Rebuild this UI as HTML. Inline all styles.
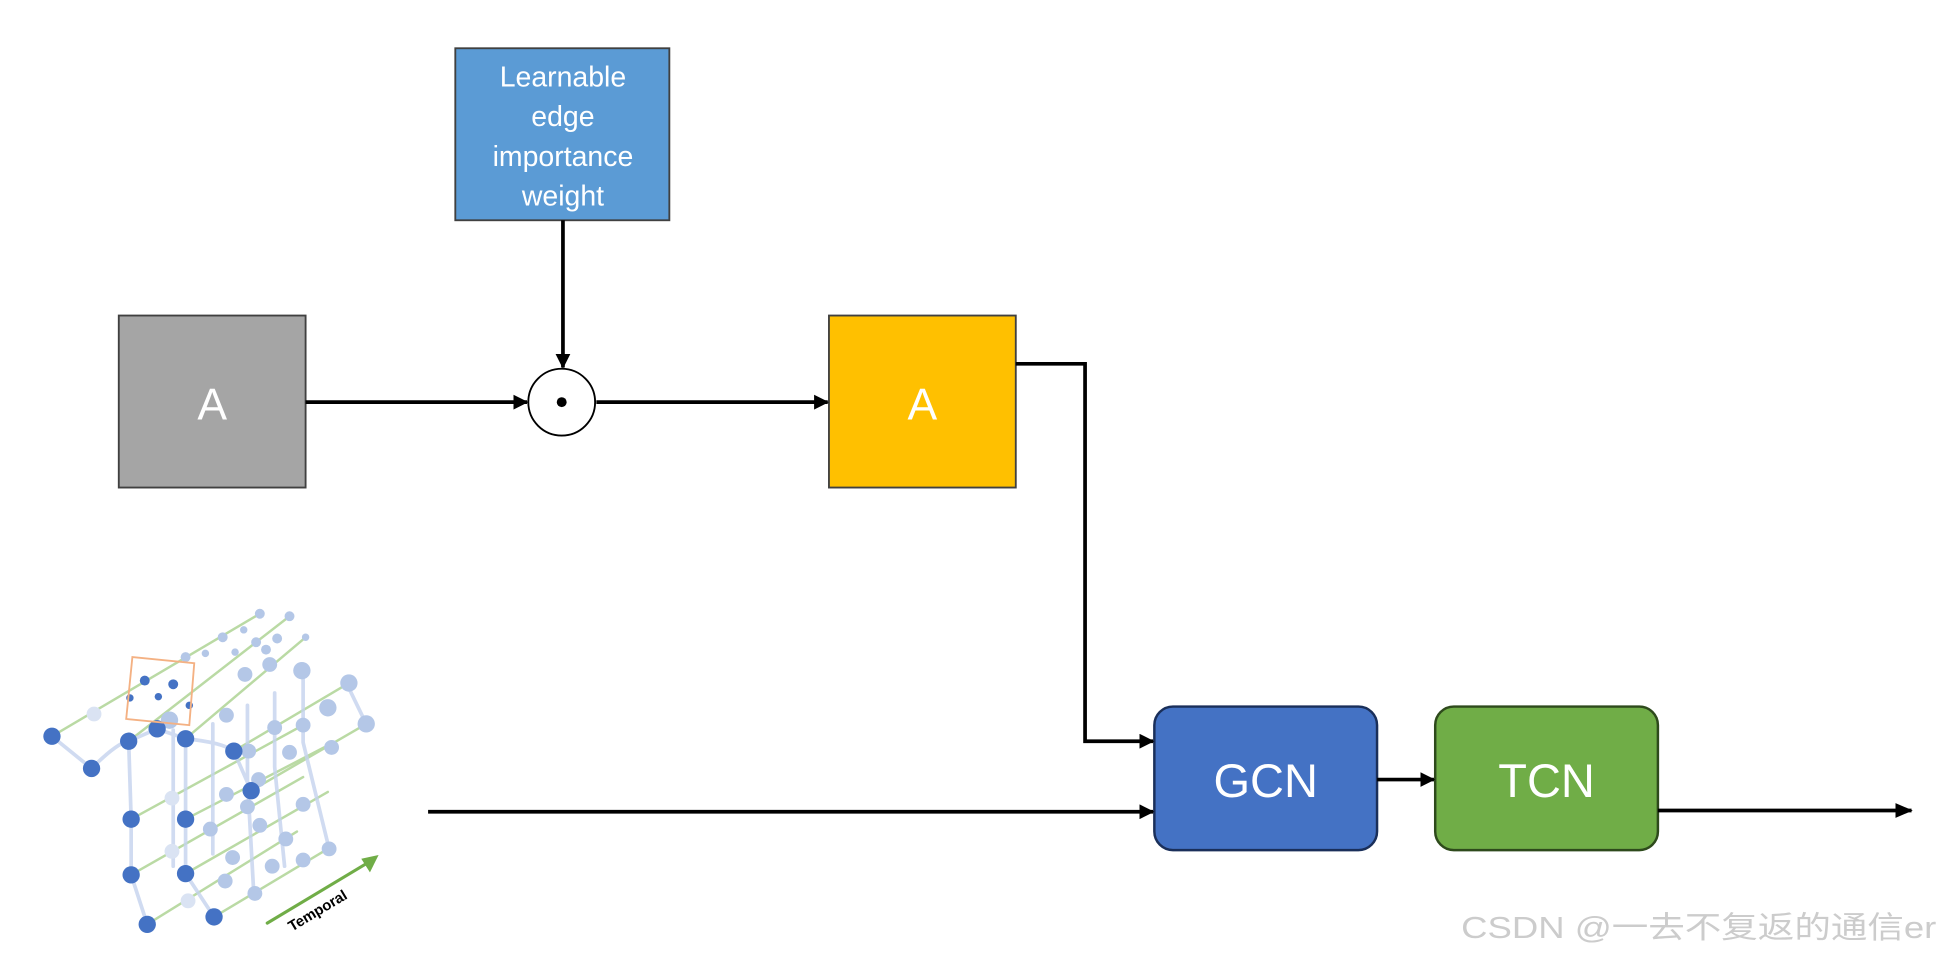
<!DOCTYPE html>
<html><head><meta charset="utf-8"><style>
html,body{margin:0;padding:0;background:#fff;}
body{width:1940px;height:959px;overflow:hidden;}
svg text{font-family:"Liberation Sans","Noto Sans CJK SC",sans-serif;}
</style></head><body>
<svg width="1940" height="959" viewBox="0 0 1568 775" xmlns="http://www.w3.org/2000/svg" preserveAspectRatio="none">
<defs>
<marker id="ar" markerWidth="12" markerHeight="12" refX="11" refY="6" orient="auto" markerUnits="userSpaceOnUse">
<path d="M0,0 L12,6 L0,12 z" fill="#000"/></marker>
<marker id="ar2" markerWidth="14" markerHeight="12" refX="13" refY="6" orient="auto" markerUnits="userSpaceOnUse">
<path d="M0,0 L14,6 L0,12 z" fill="#000"/></marker>
</defs>
<g stroke-linecap="round">
<g stroke="#a9d18e" stroke-width="2" opacity="0.8">
<line x1="42" y1="595" x2="210" y2="496"/><line x1="104" y1="599" x2="234" y2="498"/>
<line x1="150" y1="597" x2="247" y2="515"/><line x1="189" y1="607" x2="282" y2="552"/>
<line x1="203" y1="639" x2="296" y2="585"/><line x1="106" y1="662" x2="245" y2="586"/>
<line x1="150" y1="662" x2="262" y2="604"/><line x1="106" y1="707" x2="245" y2="628"/>
<line x1="150" y1="706" x2="265" y2="640"/><line x1="119" y1="747" x2="240" y2="672"/>
<line x1="173" y1="741" x2="265" y2="686"/>
</g>
<g stroke="#c5d3ee" stroke-width="3" fill="none" opacity="0.8">
<path d="M42,595 L74,621 Q95,600 104,599 L127,589 L150,597"/>
<path d="M104,599 L106,662 L106,707 L119,747"/>
<path d="M150,597 L150,662 L150,706 L173,741"/>
<path d="M150,597 Q180,600 189,607 L203,639"/>
<path d="M140,590 L140,644 L140,700"/><path d="M172,585 L172,640 L172,690"/>
<path d="M200,570 L200,630 L205,720"/><path d="M222,560 L222,620 L230,700"/>
<path d="M245,540 L245,600 L266,686"/><path d="M280,552 L296,585"/>
</g>
<g fill="#b4c7e7">
<circle cx="76" cy="577" r="6" fill="#dae3f3"/><circle cx="137" cy="582" r="7"/><circle cx="183" cy="578" r="6"/>
<circle cx="198" cy="545" r="6"/><circle cx="218" cy="537" r="6"/><circle cx="244" cy="542" r="7"/>
<circle cx="282" cy="552" r="7"/><circle cx="296" cy="585" r="7"/><circle cx="265" cy="572" r="7"/>
<circle cx="245" cy="586" r="6"/><circle cx="222" cy="588" r="6"/><circle cx="201" cy="607" r="6"/>
<circle cx="234" cy="608" r="6"/><circle cx="268" cy="604" r="6"/><circle cx="183" cy="642" r="6"/>
<circle cx="209" cy="630" r="6"/><circle cx="245" cy="650" r="6"/><circle cx="200" cy="652" r="6"/>
<circle cx="139" cy="645" r="6" fill="#dae3f3"/><circle cx="170" cy="670" r="6"/><circle cx="210" cy="667" r="6"/>
<circle cx="231" cy="678" r="6"/><circle cx="266" cy="686" r="6"/><circle cx="139" cy="688" r="6" fill="#dae3f3"/>
<circle cx="182" cy="712" r="6"/><circle cx="206" cy="722" r="6"/><circle cx="245" cy="695" r="6"/>
<circle cx="152" cy="728" r="6" fill="#dae3f3"/><circle cx="188" cy="693" r="6"/><circle cx="220" cy="700" r="6"/>
<circle cx="210" cy="496" r="4"/><circle cx="234" cy="498" r="4"/><circle cx="224" cy="516" r="4"/>
<circle cx="180" cy="515" r="4"/><circle cx="197" cy="509" r="3"/><circle cx="247" cy="515" r="3"/>
<circle cx="207" cy="519" r="4"/><circle cx="150" cy="531" r="4"/><circle cx="166" cy="528" r="3"/>
<circle cx="190" cy="527" r="3"/><circle cx="215" cy="525" r="4"/>
</g>
<g fill="#4472c4">
<circle cx="42" cy="595" r="7"/><circle cx="74" cy="621" r="7"/><circle cx="104" cy="599" r="7"/>
<circle cx="127" cy="589" r="7"/><circle cx="150" cy="597" r="7"/><circle cx="189" cy="607" r="7"/>
<circle cx="203" cy="639" r="7"/><circle cx="106" cy="662" r="7"/><circle cx="150" cy="662" r="7"/>
<circle cx="106" cy="707" r="7"/><circle cx="150" cy="706" r="7"/><circle cx="119" cy="747" r="7"/>
<circle cx="173" cy="741" r="7"/>
<circle cx="117" cy="550" r="4"/><circle cx="140" cy="553" r="4"/><circle cx="105" cy="564" r="3"/>
<circle cx="128" cy="563" r="3"/><circle cx="153" cy="570" r="3"/>
</g>
<polygon points="107,531 157,536 153,586 102,581" fill="none" stroke="#f4b183" stroke-width="1.5"/>
<line x1="216" y1="746" x2="296" y2="698" stroke="#70ad47" stroke-width="2.5"/>
<path d="M306,691 L292,694 L299,705 z" fill="#70ad47"/>
<text x="0" y="0" font-size="12" font-weight="bold" fill="#000" transform="translate(236,753) rotate(-31)">Temporal</text>
</g>

<rect x="368" y="39" width="173" height="139" fill="#5b9bd5" stroke="#404040" stroke-width="1.5"/>
<g fill="#fff" font-size="23" text-anchor="middle">
<text x="455" y="70">Learnable</text><text x="455" y="102">edge</text>
<text x="455" y="134">importance</text><text x="455" y="166">weight</text></g>
<rect x="96" y="255" width="151" height="139" fill="#a5a5a5" stroke="#404040" stroke-width="1.5"/>
<text x="171.5" y="339" fill="#fff" font-size="36" text-anchor="middle">A</text>
<rect x="670" y="255" width="151" height="139" fill="#ffc000" stroke="#404040" stroke-width="1.5"/>
<text x="745.5" y="339" fill="#fff" font-size="36" text-anchor="middle">A</text>
<circle cx="454" cy="325" r="27" fill="#fff" stroke="#000" stroke-width="1.5"/>
<circle cx="454" cy="325" r="4" fill="#000"/>
<rect x="933" y="571" width="180" height="116" rx="15" fill="#4472c4" stroke="#1a2f5a" stroke-width="2"/>
<text x="1023" y="644" fill="#fff" font-size="38" text-anchor="middle">GCN</text>
<rect x="1160" y="571" width="180" height="116" rx="15" fill="#70ad47" stroke="#2e4a1c" stroke-width="2"/>
<text x="1250" y="644" fill="#fff" font-size="38" text-anchor="middle">TCN</text>

<g stroke="#000" stroke-width="3" fill="none">
<line x1="455" y1="178" x2="455" y2="297" marker-end="url(#ar)"/>
<line x1="247" y1="325" x2="426" y2="325" marker-end="url(#ar)"/>
<line x1="482" y1="325" x2="669" y2="325" marker-end="url(#ar)"/>
<polyline points="821,294 877,294 877,599 932,599" marker-end="url(#ar)"/>
<line x1="346" y1="656" x2="932" y2="656" marker-end="url(#ar)"/>
<line x1="1113" y1="630" x2="1159" y2="630" marker-end="url(#ar)"/>
<line x1="1340" y1="655" x2="1545" y2="655" marker-end="url(#ar2)"/>
</g>
<text x="1181" y="758" font-size="25" fill="#cccccc" textLength="384" lengthAdjust="spacingAndGlyphs">CSDN @一去不复返的通信er</text>
</svg>
</body></html>
